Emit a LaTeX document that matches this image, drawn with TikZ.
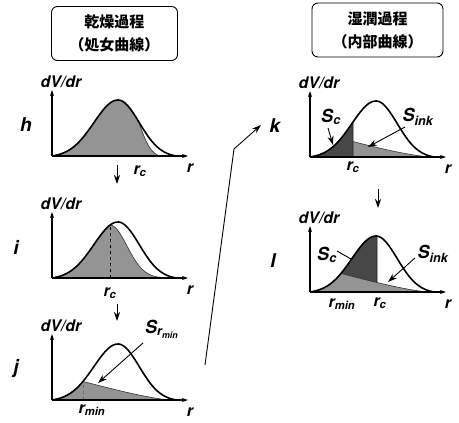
\documentclass[tikz,border=0pt]{standalone}
\usepackage{fontspec}
\setsansfont{TeX Gyre Heros}
\newfontfamily\cjk{Noto Sans CJK JP}
\usetikzlibrary{arrows.meta}

\tikzset{
  lbl/.style={font=\sffamily\bfseries\itshape\fontsize{16}{16}\selectfont,inner sep=0pt},
  slbl/.style={font=\sffamily\bfseries\itshape\fontsize{18}{18}\selectfont,inner sep=0pt},
  tag/.style={font=\sffamily\bfseries\itshape\fontsize{19}{19}\selectfont,inner sep=0pt},
  titlebox/.style={draw,rounded corners=6pt,line width=0.9pt,minimum width=126pt,minimum height=54pt,
    align=center,font=\cjk\bfseries\fontsize{15}{23}\selectfont},
  axis/.style={line width=1.1pt,-{Stealth[length=6pt,width=4pt]}},
  flow/.style={line width=0.9pt,-{Stealth[length=9pt,width=6pt]}},
  bell/.style={line width=1.6pt},
  lite/.style={fill=black!42,draw=black!80,line width=0.6pt},
  dark/.style={fill=black!72,draw=black!85,line width=0.6pt}
}

\begin{document}
\begin{tikzpicture}[x=1pt,y=-1pt,
  declare function={bellf(\x)=57.3*exp(-((\x-66)/(30+4*(\x<66)))^2)-1.3;}]
\useasboundingbox (0,0) rectangle (459,423);

% title boxes
\node[titlebox] (dry) at (114.5,33.5) {乾燥過程\\（処女曲線）};
\node[titlebox,minimum width=131pt] (wet) at (377.5,30) {湿潤過程\\（内部曲線）};

% shaded areas
\begin{scope}[shift={(52,156)},yscale=-1]
\path[lite] plot[domain=0:86,samples=40] (\x,{bellf(\x)}) .. controls (91,24) and (95,5) .. (107,0) -- cycle;
\end{scope}
\begin{scope}[shift={(52,278)},yscale=-1]
\path[lite] plot[domain=0:58,samples=30] (\x,{bellf(\x)})
  -- plot[domain=58:112,samples=30] (\x,{bellf(58)*exp(-((\x-58)/24)^2)}) -- (112,0) -- cycle;
\draw[dashed,line width=0.9pt] (58,0) -- (58,{bellf(58)});
\end{scope}
\begin{scope}[shift={(52,400)},yscale=-1]
\path[lite] plot[domain=0:31,samples=20] (\x,{bellf(\x)}) .. controls (60,11) and (95,2) .. (118,0) -- cycle;
\draw[dashed,black!60,line width=0.5pt] (31,0) -- (31,{bellf(31)});
\end{scope}
\begin{scope}[shift={(310,157)},yscale=-1]
\path[lite] plot[domain=0:31,samples=20] (\x,{bellf(\x)}) .. controls (60,11) and (95,2) .. (120,0) -- cycle;
\path[dark] plot[domain=0:43,samples=30] (\x,{bellf(\x)}) -- (43,0) -- cycle;
\end{scope}
\begin{scope}[shift={(310,292)},yscale=-1]
\path[dark] plot[domain=0:67,samples=40] (\x,{bellf(\x)}) -- (67,0) -- cycle;
\path[lite] plot[domain=0:31,samples=20] (\x,{bellf(\x)}) .. controls (60,11) and (95,2) .. (118,0) -- cycle;
\end{scope}

% curves, axes and labels of each panel
\foreach \p/\ox/\oy/\lx in {h/52/156/-26,i/52/278/-36,j/52/400/-36,k/310/157/-35,l/310/292/-37}
{
\begin{scope}[shift={(\ox,\oy)},yscale=-1]
\coordinate (\p-o) at (0,0);
\coordinate (\p-y) at (0,66);
\coordinate (\p-x) at (136,0);
\draw[bell] plot[domain=0:123,samples=60] (\x,{bellf(\x)});
\draw[axis] (\p-o) -- (\p-y);
\draw[axis] (\p-o) -- (\p-x);
\node[lbl] (\p-dv) at (9,74) {dV/dr};
\node[lbl] (\p-r) at (138,-12) {r};
\node[tag] (\p-tag) at (\lx,31) {\p};
\end{scope}
}

\node[lbl] (h-rc) at (140,171) {r\textsubscript{c}};
\node[lbl] (i-rc) at (110,293) {r\textsubscript{c}};
\node[lbl] (j-rmin) at (92,410) {r\textsubscript{min}};
\node[lbl] (k-rc) at (353,167) {r\textsubscript{c}};
\node[lbl] (l-rmin) at (342,304) {r\textsubscript{min}};
\node[lbl] (l-rc) at (380,303) {r\textsubscript{c}};

\node[slbl] (j-s) at (162,329) {S\textsubscript{r\textsubscript{min}}};
\node[slbl] (k-sc) at (331,117) {S\textsubscript{c}};
\node[slbl] (k-sink) at (418,117) {S\textsubscript{ink}};
\node[slbl] (l-sc) at (327,255) {S\textsubscript{c}};
\node[slbl] (l-sink) at (433,254) {S\textsubscript{ink}};

% pointers
\coordinate (j-s0) at (143,343);  \coordinate (j-s1) at (98,383);
\coordinate (k-c0) at (328,128);  \coordinate (k-c1) at (333,145);
\coordinate (k-i0) at (405,127);  \coordinate (k-i1) at (368,147);
\coordinate (l-c0) at (337,251);  \coordinate (l-c1) at (351,259);
\coordinate (l-i0) at (415,258);  \coordinate (l-i1) at (388,282);
\draw[flow] (j-s0) -- (j-s1);
\draw[flow] (k-c0) -- (k-c1);
\draw[flow] (k-i0) -- (k-i1);
\draw[line width=0.9pt] (l-c0) -- (l-c1);
\draw[flow] (l-i0) -- (l-i1);

% steps
\coordinate (hi0) at (117,165);  \coordinate (hi1) at (117,184);
\coordinate (ij0) at (117,304);  \coordinate (ij1) at (117,321);
\coordinate (kl0) at (378,189);  \coordinate (kl1) at (378,208);
\coordinate (jk0) at (205,365);  \coordinate (jk1) at (234,149);  \coordinate (jk2) at (261,125);
\draw[flow] (hi0) -- (hi1);
\draw[flow] (ij0) -- (ij1);
\draw[flow] (kl0) -- (kl1);
\draw[flow] (jk0) -- (jk1) -- (jk2);
\end{tikzpicture}
\end{document}
